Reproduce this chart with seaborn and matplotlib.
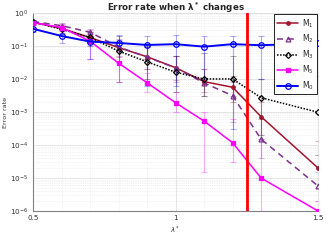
import numpy as np
import pandas as pd
import matplotlib
matplotlib.use("Agg")
import matplotlib.pyplot as plt
import seaborn as sns
from matplotlib.ticker import MultipleLocator, LogLocator, NullFormatter

# ---- data ----
lam = [0.5, 0.6, 0.7, 0.8, 0.9, 1.0, 1.1, 1.2, 1.3, 1.5]
m1 = [0.52, 0.34, 0.18, 0.089, 0.047, 0.022, 0.0083, 0.0056, 7.2e-4, 2.0e-5]
m2 = [0.55, 0.41, 0.26, 0.093, 0.046, 0.0215, 0.0076, 0.0031, 1.5e-4, 5.7e-6]
m3 = [0.53, 0.32, 0.18, 0.070, 0.033, 0.016, 0.010, 0.010, 0.0027, 9.8e-4]
m5 = [0.51, 0.36, 0.14, 0.030, 0.0077, 0.0019, 5.3e-4, 1.17e-4, 1.0e-5, 1.0e-6]
m0 = [0.33, 0.20, 0.135, 0.123, 0.107, 0.113, 0.095, 0.113, 0.105, 0.121]

m1_lo = [0.45, 0.28, 0.12, 0.045, 0.02, 0.009, 0.004, 0.002, 1.5e-4, 5e-6]
m1_hi = [0.62, 0.42, 0.26, 0.15, 0.09, 0.05, 0.02, 0.012, 0.002, 1.3e-4]
m2_lo = [0.47, 0.33, 0.17, 0.05, 0.02, 0.008, 0.003, 5e-4, 4e-5, 2e-6]
m2_hi = [0.63, 0.5, 0.33, 0.16, 0.09, 0.05, 0.02, 0.008, 6e-4, 1.5e-5]
m3_lo = [0.45, 0.25, 0.1, 0.008, 0.01, 0.004, 0.003, 0.003, 2e-4, 5e-5]
m3_hi = [0.62, 0.4, 0.27, 0.2, 0.1, 0.05, 0.06, 0.05, 0.01, 0.012]
m5_lo = [0.44, 0.28, 0.04, 0.008, 0.004, 0.001, 1.5e-5, 3e-5, 1e-6, 1e-6]
m5_hi = [0.58, 0.45, 0.3, 0.07, 0.015, 0.004, 0.001, 6e-4, 1.5e-4, 2e-6]
m0_lo = [0.27, 0.12, 0.04, 0.03, 0.006, 0.006, 0.01, 3e-4, 0.01, 0.012]
m0_hi = [0.42, 0.32, 0.25, 0.22, 0.2, 0.22, 0.2, 0.2, 0.2, 0.22]

labels = [r"M$_1$", r"M$_2$", r"M$_3$", r"M$_5$", r"M$_0$"]
threshold = 1.25

sns.set_style("whitegrid")
plt.rcParams['font.family'] = ['DejaVu Sans']

fig = plt.figure(figsize=(3.3, 2.48), dpi=100)
ax = fig.add_axes([0.1, 0.149, 0.864, 0.799])

series = [
    (m1, m1_lo, m1_hi, dict(color="#A2142F", linestyle="-", marker="o", markersize=2.5, mfc="#A2142F", lw=1.1)),
    (m2, m2_lo, m2_hi, dict(color="#7E2F8E", linestyle=(0, (4, 3)), marker="^", markersize=3.5, mfc="none", lw=1.1)),
    (m3, m3_lo, m3_hi, dict(color="black", linestyle=(0, (1, 1)), marker="D", markersize=3, mfc="none", lw=1.1)),
    (m5, m5_lo, m5_hi, dict(color="#FF00FF", linestyle="-", marker="s", markersize=3, mfc="#FF00FF", lw=1.1)),
    (m0, m0_lo, m0_hi, dict(color="#0000FF", linestyle="-", marker="o", markersize=4, mfc="none", lw=1.4)),
]

for (vals, lo, hi, st), lab in zip(series, labels):
    v = np.array(vals); l = np.array(lo); h = np.array(hi)
    ax.errorbar(lam, v, yerr=[v - l, h - v], fmt="none", ecolor=st["color"],
                alpha=0.3, elinewidth=0.8, capsize=2, capthick=0.8, zorder=2)
    df = pd.DataFrame({"lam": lam, "val": vals})
    sns.lineplot(data=df, x="lam", y="val", ax=ax, color=st["color"],
                 linestyle=st["linestyle"], marker=st["marker"],
                 markersize=st["markersize"], markerfacecolor=st["mfc"],
                 markeredgecolor=st["color"], markeredgewidth=0.9,
                 linewidth=st["lw"], label=lab, zorder=3)

ax.axvline(threshold, color="#FF0000", lw=2, zorder=4)

ax.set_yscale("log")
ax.set_xlim(0.5, 1.5)
ax.set_ylim(1e-6, 1)
ax.xaxis.set_major_locator(MultipleLocator(0.5))
ax.xaxis.set_major_formatter(matplotlib.ticker.FuncFormatter(lambda x, p: f"{x:g}"))
ax.xaxis.set_minor_locator(MultipleLocator(0.1))
ax.yaxis.set_major_locator(LogLocator(base=10, numticks=10))
ax.yaxis.set_minor_locator(LogLocator(base=10, subs=np.arange(2, 10), numticks=20))
ax.yaxis.set_minor_formatter(NullFormatter())

ax.grid(True, which="major", color="#e0e0e0", lw=0.6, ls="-")
ax.grid(True, which="minor", color="#e6e6e6", lw=0.5, ls=":")
ax.set_axisbelow(True)

for s in ["left", "bottom"]:
    ax.spines[s].set_color("#808080")
    ax.spines[s].set_linewidth(0.8)
for s in ["top", "right"]:
    ax.spines[s].set_color("#e0e0e0")
    ax.spines[s].set_linewidth(0.6)

ax.tick_params(axis="both", which="major", labelsize=5.2, colors="#333333", length=2, pad=1.2)
ax.tick_params(axis="both", which="minor", length=0)

ax.set_title(r"Error rate when $\mathbf{\lambda^*}$ changes", fontsize=6.3, fontweight="bold", pad=1.5)
ax.set_xlabel(r"$\lambda^*$", fontsize=5, labelpad=2, color="#333333")
ax.set_ylabel("Error rate", fontsize=4.6, color="#333333")
ax.yaxis.set_label_coords(-0.088, 0.5)

leg = ax.legend(loc="upper right", fontsize=5.5, frameon=True, fancybox=False,
                edgecolor="black", framealpha=1, borderpad=0.35, labelspacing=0.4,
                handlelength=2.8, handletextpad=0.5, borderaxespad=0.2)
leg.get_frame().set_linewidth(0.6)

fig.savefig("out.png", dpi=100)
